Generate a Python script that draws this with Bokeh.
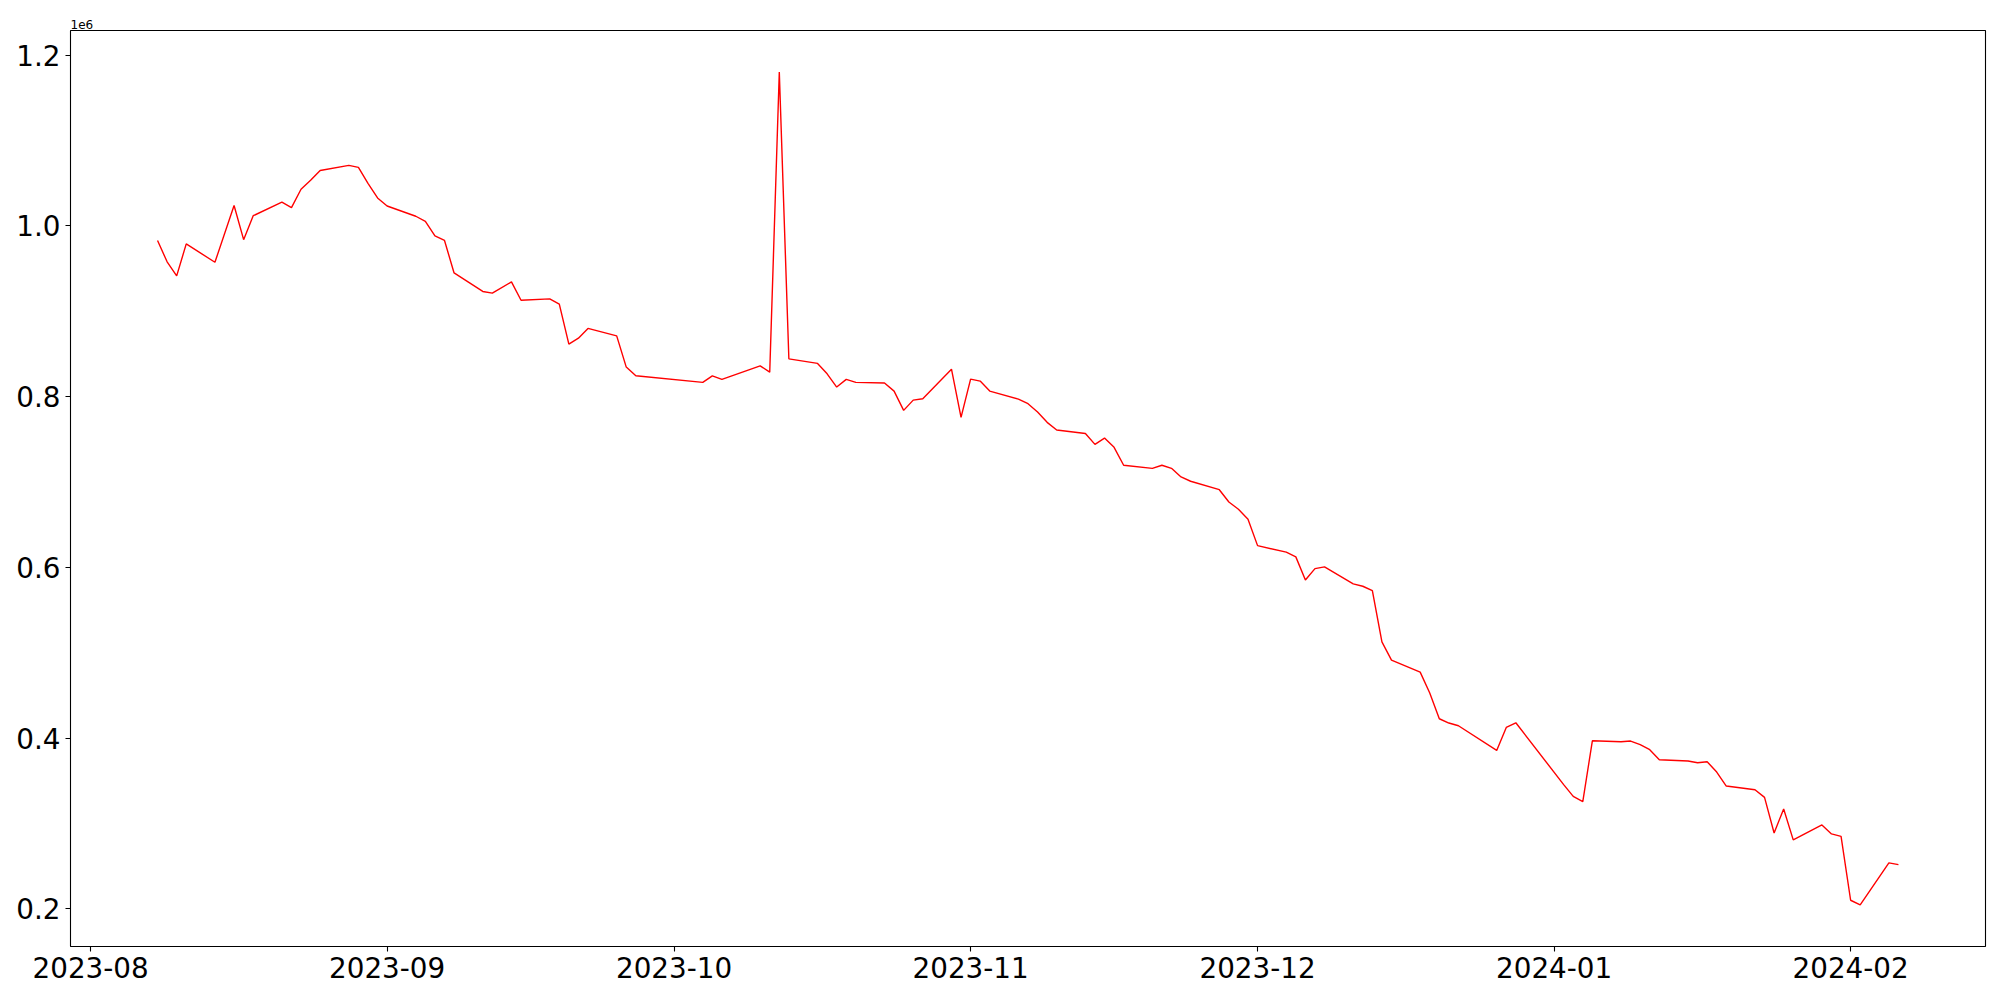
import pandas as pd
from bokeh.plotting import figure
from bokeh.models import (Range1d, FixedTicker, DatetimeTickFormatter,
                          CustomJSTickFormatter, ColumnDataSource)
from bokeh.embed import file_html
from bokeh.resources import INLINE

# ---------------- data ----------------
dates = [
    "2023-08-08", "2023-08-09", "2023-08-10", "2023-08-11", "2023-08-14",
    "2023-08-16", "2023-08-17", "2023-08-18", "2023-08-21", "2023-08-22",
    "2023-08-23", "2023-08-24", "2023-08-25", "2023-08-28", "2023-08-29",
    "2023-08-30", "2023-08-31", "2023-09-01", "2023-09-04", "2023-09-05",
    "2023-09-06", "2023-09-07", "2023-09-08", "2023-09-11", "2023-09-12",
    "2023-09-14", "2023-09-15", "2023-09-18", "2023-09-19", "2023-09-20",
    "2023-09-21", "2023-09-22", "2023-09-25", "2023-09-26", "2023-09-27",
    "2023-10-04", "2023-10-05", "2023-10-06", "2023-10-10", "2023-10-11",
    "2023-10-12", "2023-10-13", "2023-10-16", "2023-10-17", "2023-10-18",
    "2023-10-19", "2023-10-20", "2023-10-23", "2023-10-24", "2023-10-25",
    "2023-10-26", "2023-10-27", "2023-10-30", "2023-10-31", "2023-11-01",
    "2023-11-02", "2023-11-03", "2023-11-06", "2023-11-07", "2023-11-08",
    "2023-11-09", "2023-11-10", "2023-11-13", "2023-11-14", "2023-11-15",
    "2023-11-16", "2023-11-17", "2023-11-20", "2023-11-21", "2023-11-22",
    "2023-11-23", "2023-11-24", "2023-11-27", "2023-11-28", "2023-11-29",
    "2023-11-30", "2023-12-01", "2023-12-04", "2023-12-05", "2023-12-06",
    "2023-12-07", "2023-12-08", "2023-12-11", "2023-12-12", "2023-12-13",
    "2023-12-14", "2023-12-15", "2023-12-18", "2023-12-19", "2023-12-20",
    "2023-12-21", "2023-12-22", "2023-12-26", "2023-12-27", "2023-12-28",
    "2024-01-02", "2024-01-03", "2024-01-04", "2024-01-05", "2024-01-08",
    "2024-01-09", "2024-01-10", "2024-01-11", "2024-01-12", "2024-01-15",
    "2024-01-16", "2024-01-17", "2024-01-18", "2024-01-19", "2024-01-22",
    "2024-01-23", "2024-01-24", "2024-01-25", "2024-01-26", "2024-01-29",
    "2024-01-30", "2024-01-31", "2024-02-01", "2024-02-02", "2024-02-05",
    "2024-02-06",
]

values = [
    983000, 958000, 941500, 979000, 957500,
    1024000, 984000, 1012000, 1028000, 1021500,
    1043000, 1053500, 1065000, 1071000, 1068700,
    1050000, 1032800, 1023400, 1011400, 1005500,
    988300, 983000, 945000, 923300, 921300,
    934500, 913000, 914600, 908400, 861600,
    868600, 880000, 871300, 834700, 824500,
    816800, 824500, 820300, 836200, 828800,
    1180200, 844400, 839000, 826800, 811300,
    820300, 816800, 816000, 806600, 784000,
    796000, 797600, 832300, 775800, 820600,
    818300, 806600, 797200, 791800, 782000,
    770000, 761000, 757000, 744200, 751600,
    740700, 719700, 716100, 719700, 716100,
    706000, 701000, 691100, 676700, 668200,
    656500, 625600, 617900, 612400, 585400,
    598700, 600700, 580800, 578000, 572900,
    512900, 491500, 477400, 452900, 422800,
    417800, 414600, 385700, 412600, 418100,
    345600, 331900, 325700, 397000, 395900,
    396700, 392400, 386500, 374800, 373300,
    371300, 372500, 360400, 344000, 339700,
    330700, 289000, 317100, 280900, 298400,
    287900, 285100, 210200, 204800, 254000,
    252000,
]

month_ticks = ["2023-08-01", "2023-09-01", "2023-10-01", "2023-11-01",
               "2023-12-01", "2024-01-01", "2024-02-01"]
y_ticks = [200000, 400000, 600000, 800000, 1000000, 1200000]
offset_text = "1e6"

# ---------------- figure ----------------
x = pd.to_datetime(dates)
src = ColumnDataSource(dict(x=x, y=values))

x_ms = x.astype("int64") // 10**6
xmin, xmax = float(x_ms.min()), float(x_ms.max())
xpad = 0.05 * (xmax - xmin)
ymin, ymax = min(values), max(values)
ypad = 0.05 * (ymax - ymin)

p = figure(width=1995, height=990, x_axis_type="datetime",
           output_backend="svg", toolbar_location=None,
           min_border_left=70, min_border_right=10,
           min_border_top=30, min_border_bottom=44,
           background_fill_color="white", border_fill_color="white")

p.x_range = Range1d(xmin - xpad, xmax + xpad)
p.y_range = Range1d(ymin - ypad, ymax + ypad)

p.line("x", "y", source=src, line_color="red", line_width=1.4)

p.grid.visible = False
p.outline_line_color = "black"
p.outline_line_width = 1.1
p.outline_line_alpha = 1.0

# offset text ("1e6") shown above the top-left corner of the axes
p.title.text = offset_text
p.title.align = "left"
p.title.offset = 0
p.title.standoff = 4
p.title.text_font = "DejaVu Sans"
p.title.text_font_size = "12px"
p.title.text_font_style = "normal"
p.title.text_color = "black"

tick_ms = [float(t) for t in (pd.to_datetime(month_ticks).astype("int64") // 10**6)]
p.xaxis.ticker = FixedTicker(ticks=tick_ms)
p.xaxis.formatter = DatetimeTickFormatter(
    milliseconds="%Y-%m", seconds="%Y-%m", minsec="%Y-%m", minutes="%Y-%m",
    hourmin="%Y-%m", hours="%Y-%m", days="%Y-%m", months="%Y-%m", years="%Y-%m")

p.yaxis.ticker = FixedTicker(ticks=y_ticks)
p.yaxis.formatter = CustomJSTickFormatter(code="return (tick/1e6).toFixed(1);")

for ax in (p.xaxis[0], p.yaxis[0]):
    ax.axis_line_color = None
    ax.major_tick_in = 0
    ax.major_tick_out = 5
    ax.major_tick_line_width = 1.1
    ax.major_tick_line_color = "black"
    ax.minor_tick_line_color = None
    ax.major_label_standoff = 5
    ax.major_label_text_font = "DejaVu Sans"
    ax.major_label_text_font_size = "27.8px"
    ax.major_label_text_color = "black"

open("out.html", "w").write(file_html(p, INLINE))
